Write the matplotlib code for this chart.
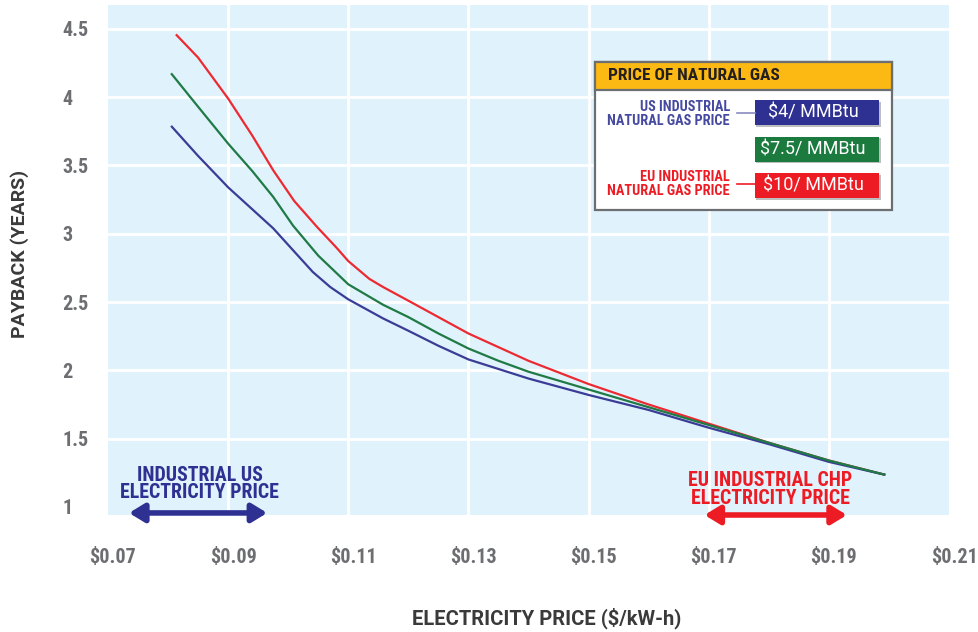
import matplotlib
matplotlib.use("Agg")
import matplotlib.pyplot as plt
from matplotlib.patches import Rectangle
from matplotlib.lines import Line2D
from matplotlib.transforms import ScaledTranslation

FONT = ['Roboto Condensed', 'DejaVu Sans']
FONT_WIDE = ['Roboto', 'DejaVu Sans']
plt.rcParams['font.family'] = FONT

# ---- data ----
x_blue = [0.0805, 0.085, 0.09, 0.094, 0.0975, 0.101, 0.1041, 0.107, 0.11, 0.1158, 0.12, 0.125, 0.13,
          0.135, 0.14, 0.15, 0.16, 0.17, 0.18, 0.19, 0.1994]
y_blue = [3.79, 3.57, 3.34, 3.18, 3.04, 2.87, 2.72, 2.61, 2.52, 2.38, 2.29, 2.18, 2.08,
          2.01, 1.94, 1.82, 1.71, 1.58, 1.46, 1.33, 1.235]

x_green = [0.0805, 0.085, 0.09, 0.094, 0.0975, 0.1008, 0.105, 0.11, 0.1158, 0.12, 0.125, 0.13,
           0.135, 0.14, 0.15, 0.16, 0.17, 0.18, 0.19, 0.1994]
y_green = [4.175, 3.93, 3.66, 3.46, 3.27, 3.06, 2.84, 2.63, 2.48, 2.39, 2.27, 2.16,
           2.07, 1.99, 1.86, 1.73, 1.60, 1.47, 1.34, 1.235]

x_red = [0.0813, 0.085, 0.09, 0.094, 0.0975, 0.101, 0.1048, 0.108, 0.11, 0.1135, 0.1158, 0.12, 0.125,
         0.13, 0.135, 0.14, 0.15, 0.16, 0.17, 0.18, 0.19, 0.1994]
y_red = [4.46, 4.29, 3.99, 3.72, 3.465, 3.24, 3.05, 2.90, 2.80, 2.67, 2.61, 2.51, 2.39,
         2.27, 2.17, 2.07, 1.90, 1.75, 1.61, 1.47, 1.34, 1.235]

x_ticks = [0.07, 0.09, 0.11, 0.13, 0.15, 0.17, 0.19, 0.21]
x_tick_labels = ['$0.07', '$0.09', '$0.11', '$0.13', '$0.15', '$0.17', '$0.19', '$0.21']
y_ticks = [1, 1.5, 2, 2.5, 3, 3.5, 4, 4.5]
y_tick_labels = ['1', '1.5', '2', '2.5', '3', '3.5', '4', '4.5']
x_grid = [0.09, 0.11, 0.13, 0.15, 0.17, 0.19]
y_grid = [1.5, 2, 2.5, 3, 3.5, 4, 4.5]

legend_title = 'PRICE OF NATURAL GAS'
legend_labels = ['$4/ MMBtu', '$7.5/ MMBtu', '$10/ MMBtu']

C_BLUE = '#3a3c96'
C_GREEN = '#1f7a45'
C_RED = '#ec2a32'
C_BOX_BLUE = '#2e3192'
C_BOX_GREEN = '#1b7a3e'
C_BOX_RED = '#ed1c24'

W, H = 979, 632
fig = plt.figure(figsize=(W / 100, H / 100), dpi=100)
ax = fig.add_axes([108 / W, 1 - 515 / H, (949 - 108) / W, (515 - 5) / H])
ax.set_facecolor('#e0f2fc')
ax.set_xlim(0.07, 0.21)
ax.set_ylim(0.941, 4.675)
for s in ax.spines.values():
    s.set_visible(False)

for gx in x_grid:
    ax.axvline(gx, color='white', lw=2, zorder=1)
for gy in y_grid:
    ax.axhline(gy, color='white', lw=2, zorder=1)

ax.plot(x_blue, y_blue, color=C_BLUE, lw=1.6, zorder=3, solid_capstyle='butt', solid_joinstyle='round')
ax.plot(x_green, y_green, color=C_GREEN, lw=1.6, zorder=3, solid_capstyle='butt', solid_joinstyle='round')
ax.plot(x_red, y_red, color=C_RED, lw=1.6, zorder=2, solid_capstyle='butt', solid_joinstyle='round')

ax.set_xticks(x_ticks)
ax.set_xticklabels(x_tick_labels)
ax.set_yticks(y_ticks)
ax.set_yticklabels(y_tick_labels)
ax.tick_params(length=0)
ax.tick_params(axis='x', pad=24, labelsize=14.5, labelcolor='#6d6e71')
ax.tick_params(axis='y', pad=33, labelsize=14.5, labelcolor='#6d6e71')
shift = ScaledTranslation(5 / 100, 0, fig.dpi_scale_trans)
for lbl in ax.get_xticklabels():
    lbl.set_fontweight('bold')
    lbl.set_transform(lbl.get_transform() + shift)
for lbl in ax.get_yticklabels():
    lbl.set_fontweight('bold')
    lbl.set_horizontalalignment('left')

fig.text(20 / W, 1 - 254 / H, 'PAYBACK (YEARS)', rotation=90, ha='center', va='center',
         fontsize=14, fontweight='bold', color='#3a3a3a', family=FONT_WIDE)
fig.text(547 / W, 1 - 618 / H, 'ELECTRICITY PRICE ($/kW-h)', ha='center', va='center',
         fontsize=14.5, fontweight='bold', color='#3a3a3a', family=FONT_WIDE)

# annotations
ax.text(0.0853, 1.168, 'INDUSTRIAL US\nELECTRICITY PRICE', ha='center', va='center',
        fontsize=14.3, fontweight='bold', color=C_BOX_BLUE, linespacing=0.92, zorder=4)
ax.annotate('', xy=(0.0965, 0.956), xytext=(0.0735, 0.956),
            arrowprops=dict(arrowstyle='<|-|>,head_length=0.9,head_width=0.55', lw=4,
                            color=C_BOX_BLUE, shrinkA=0, shrinkB=0),
            annotation_clip=False, zorder=5)
ax.text(0.1802, 1.13, 'EU INDUSTRIAL CHP\nELECTRICITY PRICE', ha='center', va='center',
        fontsize=14.3, fontweight='bold', color=C_BOX_RED, linespacing=0.92, zorder=4)
ax.annotate('', xy=(0.193, 0.941), xytext=(0.1693, 0.941),
            arrowprops=dict(arrowstyle='<|-|>,head_length=0.9,head_width=0.55', lw=4,
                            color=C_BOX_RED, shrinkA=0, shrinkB=0),
            annotation_clip=False, zorder=5)

# legend box (figure pixel coordinates)
def fx(x):
    return x / W

def fy(y):
    return 1 - y / H

def rect(x0, y0, x1, y1, **kw):
    r = Rectangle((fx(x0), fy(y1)), fx(x1) - fx(x0), fy(y0) - fy(y1),
                  transform=fig.transFigure, **kw)
    fig.add_artist(r)

rect(595, 62, 892, 210, facecolor='white', edgecolor='#6d6e71', lw=1.6, zorder=10)
rect(595, 62, 892, 90, facecolor='#fdb913', edgecolor='#6d6e71', lw=1.6, zorder=11)
fig.text(fx(608), fy(76), legend_title, ha='left', va='center', fontsize=12.5,
         fontweight='bold', color='#231f20', zorder=12)

box_colors = [C_BOX_BLUE, C_BOX_GREEN, C_BOX_RED]
box_tops = [100, 137, 173]
for lab, col, top in zip(legend_labels, box_colors, box_tops):
    rect(756, top + 1.5, 881, top + 26.5, facecolor='#bcbec0', edgecolor='none', zorder=11)
    rect(755, top, 879, top + 25, facecolor=col, edgecolor='none', zorder=12)
    fig.text(fx(813), fy(top + 12.5), lab, ha='center', va='center', fontsize=13,
             color='white', zorder=13, family=FONT_WIDE)

fig.text(fx(730), fy(114), 'US INDUSTRIAL\nNATURAL GAS PRICE', ha='right', va='center',
         fontsize=10.3, fontweight='bold', color='#4549a0', linespacing=0.95, zorder=12)
fig.text(fx(730), fy(184), 'EU INDUSTRIAL\nNATURAL GAS PRICE', ha='right', va='center',
         fontsize=10.3, fontweight='bold', color=C_BOX_RED, linespacing=0.95, zorder=12)
fig.add_artist(Line2D([fx(737), fx(755)], [fy(113), fy(113)], transform=fig.transFigure,
                      color='#8a8cc0', lw=1.2, zorder=12))
fig.add_artist(Line2D([fx(737), fx(755)], [fy(184), fy(184)], transform=fig.transFigure,
                      color=C_BOX_RED, lw=1.2, zorder=12))

fig.savefig('out.png', dpi=100)
